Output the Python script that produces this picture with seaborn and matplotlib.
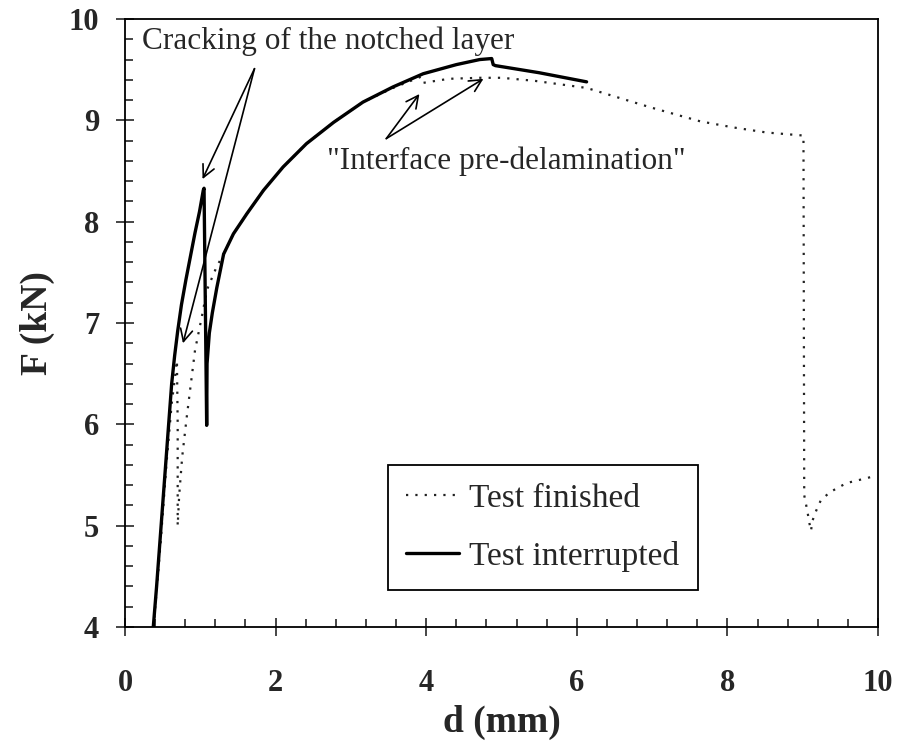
import pandas as pd
import matplotlib.pyplot as plt
import seaborn as sns
from matplotlib.ticker import MultipleLocator

sns.set_theme(style="ticks")
plt.rcParams['font.family'] = ['Liberation Serif', 'DejaVu Serif']

# Data (d in mm, F in kN)
d_finished = [0.38, 0.47, 0.55, 0.62, 0.67, 0.69, 0.70, 0.70, 0.72, 0.76, 0.82, 0.87,
              0.93, 1.02, 1.09, 1.22, 1.31, 1.44, 1.62, 1.84, 2.10, 2.41, 2.77, 3.16,
              3.56, 3.93, 3.96, 4.30, 4.71, 5.00, 5.44, 6.13, 6.97, 7.64, 8.08, 8.52,
              9.01, 9.02, 9.06, 9.09, 9.11, 9.13, 9.18, 9.24, 9.36, 9.58, 9.80, 9.96]
F_finished = [4.00, 4.80, 5.60, 6.20, 6.50, 6.63, 6.00, 5.00, 5.30, 5.68, 6.07, 6.37,
              6.73, 7.06, 7.33, 7.56, 7.68, 7.88, 8.08, 8.31, 8.54, 8.77, 8.98, 9.18,
              9.32, 9.43, 9.37, 9.41, 9.42, 9.42, 9.39, 9.32, 9.13, 8.99, 8.93, 8.88,
              8.85, 5.30, 5.15, 5.02, 4.95, 5.05, 5.15, 5.25, 5.33, 5.42, 5.46, 5.49]

d_interrupted = [0.376, 0.42, 0.46, 0.50, 0.54, 0.58, 0.62, 0.66, 0.70, 0.75, 0.81,
                 0.87, 0.93, 0.99, 1.04, 1.05, 1.085, 1.09, 1.12, 1.16, 1.22, 1.31,
                 1.44, 1.62, 1.84, 2.10, 2.41, 2.77, 3.16, 3.56, 3.96, 4.40, 4.71,
                 4.87, 4.89, 4.92, 5.50, 6.13]
F_interrupted = [4.00, 4.40, 4.80, 5.20, 5.60, 6.00, 6.40, 6.68, 6.92, 7.18, 7.43,
                 7.66, 7.89, 8.10, 8.31, 8.33, 5.99, 6.60, 6.90, 7.10, 7.35, 7.68,
                 7.88, 8.08, 8.31, 8.54, 8.77, 8.98, 9.18, 9.33, 9.46, 9.55, 9.60,
                 9.61, 9.55, 9.54, 9.47, 9.38]

series_labels = ['Test finished', 'Test interrupted']

df_fin = pd.DataFrame({'d': d_finished, 'F': F_finished})
df_int = pd.DataFrame({'d': d_interrupted, 'F': F_interrupted})

fig = plt.figure(figsize=(9.01, 7.49), dpi=100)
ax = fig.add_axes([0.1387, 0.1629, 0.8358, 0.8117])

sns.lineplot(data=df_fin, x='d', y='F', sort=False, estimator=None, ax=ax,
             color='#222222', lw=1.6, linestyle=(0, (1, 3.2)), label=series_labels[0])
sns.lineplot(data=df_int, x='d', y='F', sort=False, estimator=None, ax=ax,
             color='black', lw=2.4, label=series_labels[1])

ax.set_xlim(0, 10)
ax.set_ylim(4, 10)
ax.xaxis.set_major_locator(MultipleLocator(2))
ax.xaxis.set_minor_locator(MultipleLocator(0.4))
ax.yaxis.set_major_locator(MultipleLocator(1))
ax.yaxis.set_minor_locator(MultipleLocator(0.2))

ax.tick_params(which='major', direction='inout', length=13, width=1.2, labelsize=22)
ax.tick_params(which='minor', direction='in', length=6, width=1.2)
ax.tick_params(axis='x', which='major', pad=24)
ax.tick_params(axis='y', which='major', pad=12)
for lab in ax.get_xticklabels() + ax.get_yticklabels():
    lab.set_fontweight('bold')
for sp in ax.spines.values():
    sp.set_linewidth(1.3)
    sp.set_color('black')

ax.set_xlabel('d (mm)', fontsize=27, fontweight='bold', labelpad=5)
ax.set_ylabel('F (kN)', fontsize=27, fontweight='bold', labelpad=10)

# annotations
arrow_kw = dict(arrowstyle='->', lw=1.2, color='black', mutation_scale=22,
                shrinkA=0, shrinkB=0)
ax.text(0.23, 9.78, 'Cracking of the notched layer', fontsize=22.5,
        ha='left', va='center')
ax.annotate('', xy=(1.03, 8.42), xytext=(1.72, 9.51), arrowprops=arrow_kw)
ax.annotate('', xy=(0.77, 6.80), xytext=(1.72, 9.51), arrowprops=arrow_kw)

ax.text(2.68, 8.6, '"Interface pre-delamination"', fontsize=22.5,
        ha='left', va='center')
ax.annotate('', xy=(3.91, 9.26), xytext=(3.47, 8.82), arrowprops=arrow_kw)
ax.annotate('', xy=(4.76, 9.41), xytext=(3.47, 8.82), arrowprops=arrow_kw)

leg = ax.legend(loc='lower left', bbox_to_anchor=(0.349, 0.061), borderaxespad=0,
                fontsize=24, frameon=True, fancybox=False, edgecolor='black',
                framealpha=1, handlelength=1.6, handletextpad=0.3,
                borderpad=0.55, labelspacing=0.8)
leg.get_frame().set_linewidth(1.3)

fig.savefig('out.png', dpi=100)
